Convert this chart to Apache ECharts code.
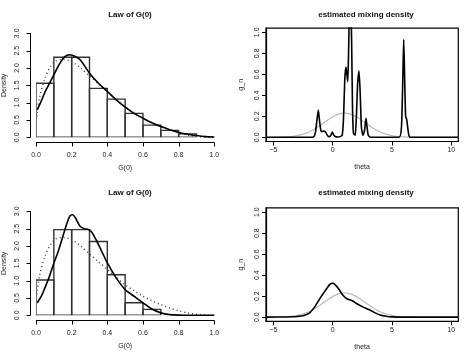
<!DOCTYPE html>
<html><head><meta charset="utf-8">
<script src="https://cdn.jsdelivr.net/npm/echarts@6/dist/echarts.min.js"></script>
<style>html,body{margin:0;padding:0;background:#fff}#c{width:473px;height:358px}</style>
</head><body><div id="c"></div>
<script>
// ---------- data ----------
const titleLeft = 'Law of G(0)';
const titleRight = 'estimated mixing density';

const binWidth = 0.1;
const binStartsTop = [0,0.1,0.2,0.3,0.4,0.5,0.6,0.7,0.8];
const histTop = [1.56,2.31,2.31,1.41,1.10,0.69,0.35,0.20,0.10];
const binStartsBottom = [0,0.1,0.2,0.3,0.4,0.5,0.6];
const histBottom = [1.02,2.47,2.47,2.13,1.17,0.36,0.17];

// dotted reference density (same in both left panels)
const refX = [0.005,0.02,0.05,0.08,0.11,0.15,0.2,0.25,0.3,0.35,0.4,0.45,0.5,0.55,0.6,0.65,0.7,0.75,0.8,0.85,0.9,0.95,1.0];
const refY = [0.6,1.15,1.7,2.03,2.2,2.25,2.18,2.0,1.77,1.55,1.32,1.1,0.88,0.71,0.55,0.42,0.31,0.21,0.13,0.07,0.03,0.008,0];

// solid estimated density, top-left
const estTopX = [0.007,0.03,0.05,0.08,0.1,0.13,0.16,0.19,0.22,0.25,0.3,0.35,0.4,0.45,0.5,0.55,0.6,0.65,0.7,0.75,0.8,0.85,0.9,0.95,1.0];
const estTopY = [0.79,1.05,1.3,1.6,1.8,2.1,2.32,2.38,2.33,2.22,1.85,1.56,1.32,1.08,0.87,0.69,0.55,0.42,0.31,0.22,0.14,0.09,0.05,0.02,0.01];

// solid estimated density, bottom-left
const estBotX = [0.007,0.03,0.05,0.075,0.1,0.125,0.145,0.17,0.19,0.205,0.22,0.247,0.27,0.29,0.31,0.335,0.36,0.4,0.45,0.5,0.55,0.6,0.65,0.7,0.75,0.8,0.9,1.0];
const estBotY = [0.36,0.55,0.79,1.12,1.5,1.85,2.18,2.6,2.86,2.9,2.82,2.57,2.5,2.48,2.42,2.2,1.94,1.51,1.08,0.74,0.55,0.36,0.18,0.07,0.02,0.005,0,0];

// gray prior density (same in both right panels)
const priorX = [-5.62,-5,-4.5,-4,-3.5,-3,-2.5,-2,-1.5,-1,-0.5,0,0.5,1,1.5,2,2.5,3,3.5,4,4.5,5,5.5,6,6.5,7,8,10.59];
const priorY = [0,0.0006,0.0015,0.0035,0.0078,0.016,0.030,0.051,0.081,0.118,0.158,0.195,0.221,0.23,0.221,0.195,0.158,0.118,0.081,0.051,0.030,0.016,0.0078,0.0035,0.0015,0.0006,0,0];

// black estimated mixing density, top-right (spiky)
const gTopX = [-5.62,-2.0,-1.6,-1.45,-1.33,-1.21,-1.1,-1.0,-0.9,-0.75,-0.6,-0.45,-0.3,-0.15,-0.03,0.1,0.25,0.5,0.8,0.92,1.02,1.12,1.2,1.27,1.33,1.4,1.47,1.53,1.6,1.67,1.75,1.9,2.0,2.1,2.22,2.32,2.42,2.55,2.68,2.81,2.9,3.0,3.2,5.6,5.8,5.92,5.99,6.07,6.15,6.24,6.32,6.42,6.5,10.59];
const gTopY = [0,0,0.005,0.05,0.16,0.26,0.15,0.07,0.055,0.06,0.05,0.02,0.005,0.02,0.05,0.02,0.005,0.003,0.02,0.2,0.55,0.67,0.6,0.53,0.75,1.15,1.4,1.3,0.9,0.3,0.04,0.02,0.2,0.5,0.63,0.42,0.1,0.02,0.06,0.18,0.1,0.02,0,0,0.1,0.6,0.93,0.55,0.2,0.17,0.1,0.02,0,0];

// black estimated mixing density, bottom-right
const gBotX = [-5.62,-4,-3.5,-3,-2.5,-2,-1.5,-1,-0.7,-0.4,-0.2,0,0.2,0.5,0.85,1.2,1.69,2,2.5,3.09,3.5,4,4.5,5,6,10.59];
const gBotY = [0,0.001,0.003,0.006,0.013,0.035,0.1,0.19,0.24,0.29,0.315,0.322,0.31,0.27,0.21,0.175,0.154,0.13,0.1,0.07,0.045,0.02,0.008,0.002,0,0];

const xTicksLeft = [0,0.2,0.4,0.6,0.8,1.0];
const yTicksLeft = [0,0.5,1.0,1.5,2.0,2.5,3.0];
const xTicksRight = [-5,0,5,10];
const yTicksRight = [0,0.2,0.4,0.6,0.8,1.0];

// ---------- chart ----------
const FONT = 'Liberation Sans';
const txt = () => ({color:'#222', fontSize:7, fontFamily:FONT});
const zip = (xs, ys) => xs.map((x,i)=>[x, ys[i]]);

const grids = [
  {left:36, top:33.3, width:178.3, height:104},
  {left:266, top:28.1, width:192.3, height:113.4, show:true, borderColor:'#000', borderWidth:1.2},
  {left:36, top:211.3, width:178.3, height:104},
  {left:266, top:207.9, width:192.3, height:113.4, show:true, borderColor:'#000', borderWidth:1.2}
];

function leftX(gi){
  return {gridIndex:gi, type:'value', min:0, max:1, interval:0.2, offset:5,
    axisLine:{show:false, onZero:false}, axisTick:{show:false},
    axisLabel:Object.assign({margin:9, formatter:v=>v.toFixed(1)}, txt()),
    splitLine:{show:false},
    name:'G(0)', nameLocation:'middle', nameGap:22, nameTextStyle:txt()};
}
function leftY(gi){
  return {gridIndex:gi, type:'value', min:0, max:3, interval:0.5, offset:6,
    axisLine:{show:false, onZero:false}, axisTick:{show:false},
    axisLabel:Object.assign({margin:9, rotate:90, formatter:v=>v.toFixed(1)}, txt()),
    splitLine:{show:false},
    name:'Density', nameLocation:'middle', nameGap:22, nameRotate:90, nameTextStyle:txt()};
}
function rightX(gi){
  return {gridIndex:gi, type:'value', min:-5.62, max:10.59,
    axisLine:{show:true, onZero:false, lineStyle:{color:'#000', width:1.2}},
    axisTick:{show:true, length:4, customValues:xTicksRight, lineStyle:{color:'#000'}},
    axisLabel:Object.assign({margin:5, customValues:xTicksRight, formatter:v=>String(v).replace('-','\u2212')}, txt()),
    splitLine:{show:false},
    name:'theta', nameLocation:'middle', nameGap:22, nameTextStyle:txt()};
}
function rightY(gi){
  return {gridIndex:gi, type:'value', min:-0.04, max:1.04,
    axisLine:{show:true, onZero:false, lineStyle:{color:'#000', width:1.2}},
    axisTick:{show:true, length:4, customValues:yTicksRight, lineStyle:{color:'#000'}},
    axisLabel:Object.assign({margin:5, rotate:90, customValues:yTicksRight, formatter:v=>v.toFixed(1)}, txt()),
    splitLine:{show:false},
    name:'g_n', nameLocation:'middle', nameGap:21, nameRotate:90, nameTextStyle:txt()};
}

function histSeries(gi, starts, heights){
  return {type:'custom', xAxisIndex:gi, yAxisIndex:gi, clip:true, silent:true,
    data: starts.map((s,i)=>[s, s+binWidth, heights[i]]),
    renderItem:(params, api)=>{
      const p0 = api.coord([api.value(0), api.value(2)]);
      const p1 = api.coord([api.value(1), 0]);
      return {type:'rect', shape:{x:p0[0], y:p0[1], width:p1[0]-p0[0], height:p1[1]-p0[1]},
        style:{fill:'none', stroke:'#333', lineWidth:1.4}};
    }, z:2};
}

// R-style detached axes: line from first to last tick, set slightly outside the panel
function axisSeries(gi){
  return {type:'custom', xAxisIndex:gi, yAxisIndex:gi, clip:false, silent:true, z:10,
    data:[[xTicksLeft[0], yTicksLeft[0]]],
    renderItem:(params, api)=>{
      const crisp = v => Math.round(v) + 0.5;
      const xLo = xTicksLeft[0], xHi = xTicksLeft[xTicksLeft.length-1];
      const yLo = yTicksLeft[0], yHi = yTicksLeft[yTicksLeft.length-1];
      const o = api.coord([xLo, yLo]);
      const yLine = crisp(o[1] + 4.5);
      const xLine = crisp(o[0] - 6.5);
      const st = {stroke:'#000', lineWidth:1};
      const ch = [];
      ch.push({type:'line', shape:{x1:o[0], y1:yLine, x2:api.coord([xHi, yLo])[0], y2:yLine}, style:st});
      xTicksLeft.forEach(v=>{ const x = crisp(api.coord([v, yLo])[0]);
        ch.push({type:'line', shape:{x1:x, y1:yLine, x2:x, y2:yLine+4}, style:st}); });
      ch.push({type:'line', shape:{x1:xLine, y1:o[1], x2:xLine, y2:api.coord([xLo, yHi])[1]}, style:st});
      yTicksLeft.forEach(v=>{ const y = crisp(api.coord([xLo, v])[1]);
        ch.push({type:'line', shape:{x1:xLine, y1:y, x2:xLine-4, y2:y}, style:st}); });
      return {type:'group', children:ch};
    }};
}
function lineSeries(gi, xs, ys, style){
  return {type:'line', xAxisIndex:gi, yAxisIndex:gi, data:zip(xs,ys), showSymbol:false,
    symbol:'none', smooth:0.3, clip:true, silent:true, lineStyle:style, z:3};
}

const titleStyle = {color:'#111', fontSize:8, fontWeight:'bold', fontFamily:FONT};

const option = {
  animation:false,
  backgroundColor:'#fff',
  title:[
    {text:titleLeft, left:125, top:6, textAlign:'center', textStyle:titleStyle},
    {text:titleRight, left:361, top:6, textAlign:'center', textStyle:titleStyle},
    {text:titleLeft, left:125, top:184, textAlign:'center', textStyle:titleStyle},
    {text:titleRight, left:361, top:184, textAlign:'center', textStyle:titleStyle}
  ],
  grid:grids,
  xAxis:[leftX(0), rightX(1), leftX(2), rightX(3)],
  yAxis:[leftY(0), rightY(1), leftY(2), rightY(3)],
  series:[
    histSeries(0, binStartsTop, histTop),
    axisSeries(0),
    lineSeries(0, refX, refY, {color:'#444', width:1.5, type:[1,3]}),
    lineSeries(0, estTopX, estTopY, {color:'#000', width:1.6}),
    lineSeries(1, priorX, priorY, {color:'#bbb', width:1.2}),
    Object.assign(lineSeries(1, gTopX, gTopY, {color:'#000', width:1.6}), {smooth:0.2}),
    histSeries(2, binStartsBottom, histBottom),
    axisSeries(2),
    lineSeries(2, refX, refY, {color:'#444', width:1.5, type:[1,3]}),
    lineSeries(2, estBotX, estBotY, {color:'#000', width:1.6}),
    lineSeries(3, priorX, priorY, {color:'#bbb', width:1.2}),
    lineSeries(3, gBotX, gBotY, {color:'#000', width:1.6})
  ]
};
const chart = echarts.init(document.getElementById('c'), null, {renderer:'canvas'});
chart.setOption(option);
</script>
</body></html>
